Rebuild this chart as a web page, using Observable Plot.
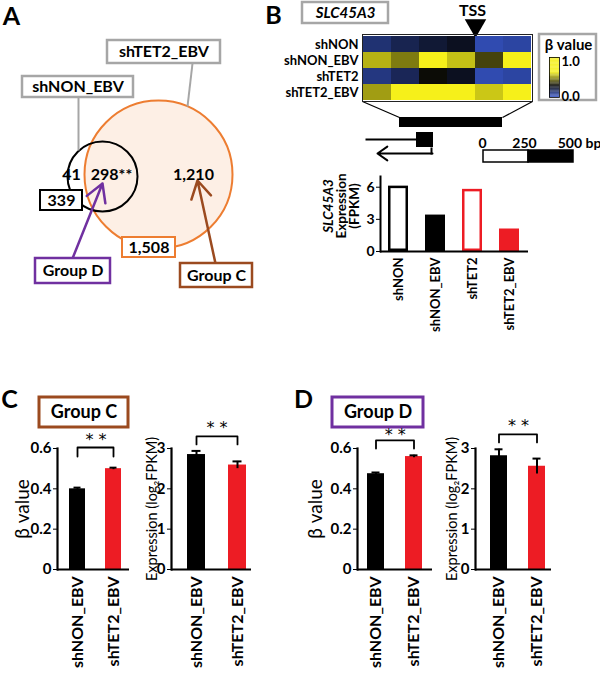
<!DOCTYPE html>
<html><head><meta charset="utf-8">
<script src="https://cdn.jsdelivr.net/npm/d3@7"></script>
<script src="https://cdn.jsdelivr.net/npm/@observablehq/plot@0.6"></script>
<style>
body{margin:0;background:#fff;}
#fig{position:relative;width:600px;height:673px;overflow:hidden;background:#fff;}
</style></head><body><div id="fig"></div>
<script>
// ---------------- DATA ----------------
// Panel A (Venn)
const vennSetLabels = ["shNON_EBV", "shTET2_EBV"];
const vennRegionCounts = ["41", "298**", "1,210"];
const vennSetTotals = ["339", "1,508"];
const vennGroups = ["Group D", "Group C"];
// Panel B heatmap (beta values, 6 CpG bins)
const heatRows = ["shNON", "shNON_EBV", "shTET2", "shTET2_EBV"];
const heatCols = [1, 2, 3, 4, 5, 6];
const beta_shNON      = [0.12, 0.17, 0.21, 0.24, 0.03, 0.05];
const beta_shNON_EBV  = [0.53, 0.45, 0.66, 0.55, 0.37, 0.75];
const beta_shTET2     = [0.10, 0.16, 0.29, 0.24, 0.03, 0.05];
const beta_shTET2_EBV = [0.50, 0.75, 0.75, 0.70, 0.56, 0.74];
const betaLegendTicks = ["1.0", "0.0"];
const geneName = "SLC45A3";
const scaleBarTicks = ["0", "250", "500 bp"];
// Panel B bar chart
const fpkmSamples = ["shNON", "shNON_EBV", "shTET2", "shTET2_EBV"];
const fpkmValues = [6.1, 3.4, 5.8, 2.1];
const fpkmTicks = [0, 3, 6];
// Panels C and D
const groupSamples = ["shNON_EBV", "shTET2_EBV"];
const groupC_beta = [0.40, 0.50];   const groupC_betaErr = [0.006, 0.005];
const groupC_expr = [2.85, 2.59];   const groupC_exprErr = [0.09, 0.09];
const groupD_beta = [0.475, 0.56];  const groupD_betaErr = [0.006, 0.006];
const groupD_expr = [2.82, 2.56];   const groupD_exprErr = [0.16, 0.19];
const betaTicks = [0, 0.2, 0.4, 0.6];
const exprTicks = [0, 1, 2, 3];

// ---------------- STYLE / LAYOUT ----------------
const FONT = "Lato, 'Open Sans', sans-serif";
const GRAY = "#a6a6a6", ORANGE = "#ed7d31", PURPLE = "#7030a0", BROWN = "#9b4a1f", RED = "#ed1c24";
const heatColor = {type: "linear", domain: [0, 0.28, 0.62, 1], range: ["#3553c4", "#050505", "#f6f01a", "#f6f01a"], interpolate: "rgb"};
const fig = document.getElementById("fig");
function place(svg, left, top) {
  svg.style.position = "absolute"; svg.style.left = left + "px"; svg.style.top = top + "px";
  svg.style.maxWidth = "none"; fig.appendChild(svg);
}
const st = (extra = {}) => Object.assign({fontFamily: FONT, color: "#000", background: "transparent", overflow: "visible"}, extra);

// ---------------- BASE LAYER (annotations, Venn, gene model) ----------------
const boxes = [
  {t: vennSetLabels[1], x1: 107, x2: 220, y1: 40, y2: 63, c: GRAY, fs: 16, sw: 2.5},
  {t: vennSetLabels[0], x1: 22, x2: 133, y1: 76, y2: 97, c: GRAY, fs: 16, sw: 2.5},
  {t: vennSetTotals[0], x1: 40, x2: 82, y1: 190, y2: 210, c: "#000", fs: 16, sw: 2},
  {t: vennSetTotals[1], x1: 122, x2: 175, y1: 237, y2: 257, c: ORANGE, fs: 16, sw: 2},
  {t: vennGroups[0], x1: 35, x2: 110, y1: 258, y2: 283, c: PURPLE, fs: 16, sw: 2.5},
  {t: vennGroups[1], x1: 180, x2: 252, y1: 263, y2: 287, c: BROWN, fs: 16, sw: 2.5},
  {t: geneName, x1: 302, x2: 388, y1: 2, y2: 23, c: GRAY, fs: 15, sw: 2.5, it: true},
  {t: vennGroups[1], x1: 39, x2: 128, y1: 397, y2: 427, c: BROWN, fs: 18, sw: 3},
  {t: vennGroups[0], x1: 332, x2: 423, y1: 397, y2: 427, c: PURPLE, fs: 18, sw: 3},
  {t: "", x1: 539, x2: 596, y1: 34, y2: 100, c: GRAY, fs: 14, sw: 2.5}
];
const panelLetters = [{t: "A", x: 11, y: 16}, {t: "B", x: 273, y: 15}, {t: "C", x: 9, y: 399}, {t: "D", x: 303, y: 399}];
const circles = [{x: 158, y: 174, r: 74}, {x: 102, y: 176, r: 35}];
const countPos = [{x: 71, y: 174}, {x: 111, y: 174}, {x: 193, y: 174}];
const leaders = [{x1: 78, y1: 97, x2: 78, y2: 150}, {x1: 192, y1: 63, x2: 187, y2: 106}];
const arrowsA = [{x1: 72, y1: 258, x2: 102, y2: 183, c: PURPLE}, {x1: 215, y1: 263, x2: 197, y2: 180, c: BROWN}];

const baseMarks = [];
baseMarks.push(Plot.text(panelLetters, {x: "x", y: "y", text: "t", fontSize: 25, fontWeight: "bold", lineAnchor: "middle"}));
baseMarks.push(Plot.dot([circles[0]], {x: "x", y: "y", r: circles[0].r, fill: "#fdefe5", stroke: ORANGE, strokeWidth: 2}));
baseMarks.push(Plot.dot([circles[1]], {x: "x", y: "y", r: circles[1].r, fill: "none", stroke: "#000", strokeWidth: 2}));
baseMarks.push(Plot.link(leaders, {x1: "x1", y1: "y1", x2: "x2", y2: "y2", stroke: GRAY, strokeWidth: 2}));
for (const a of arrowsA) baseMarks.push(Plot.arrow([a], {x1: "x1", y1: "y1", x2: "x2", y2: "y2", stroke: a.c, strokeWidth: 2.5, headLength: 12}));
for (const b of boxes) {
  baseMarks.push(Plot.rect([b], {x1: "x1", x2: "x2", y1: "y1", y2: "y2", fill: "white", stroke: b.c, strokeWidth: b.sw}));
  if (b.t) baseMarks.push(Plot.text([b], {x: d => (d.x1 + d.x2) / 2, y: d => (d.y1 + d.y2) / 2, text: "t", fontSize: b.fs, fontWeight: "bold", fontStyle: b.it ? "italic" : "normal"}));
}
baseMarks.push(Plot.text(countPos.map((p, i) => ({...p, t: vennRegionCounts[i]})), {x: "x", y: "y", text: "t", fontSize: 16, fontWeight: "bold"}));
// TSS marker
baseMarks.push(Plot.text([{x: 472, y: 10, t: "TSS"}], {x: "x", y: "y", text: "t", fontSize: 16, fontWeight: "bold"}));
baseMarks.push(Plot.dot([{x: 475, y: 25}], {x: "x", y: "y", symbol: "triangle", rotate: 180, r: 8, fill: "#000"}));
// legend title and ticks
baseMarks.push(Plot.text([{x: 568, y: 45, t: "β value"}], {x: "x", y: "y", text: "t", fontSize: 15, fontWeight: "bold"}));
baseMarks.push(Plot.text([{x: 561, y: 61, t: betaLegendTicks[0]}, {x: 561, y: 96, t: betaLegendTicks[1]}], {x: "x", y: "y", text: "t", fontSize: 13, fontWeight: "bold", textAnchor: "start"}));
// zoom-in trapezoid and region bar
baseMarks.push(Plot.link([{x1: 362, y1: 101, x2: 399, y2: 117}, {x1: 532, y1: 101, x2: 502, y2: 117}], {x1: "x1", y1: "y1", x2: "x2", y2: "y2", stroke: "#000", strokeWidth: 1.2}));
baseMarks.push(Plot.rect([{x1: 399, x2: 502, y1: 117, y2: 127}], {x1: "x1", x2: "x2", y1: "y1", y2: "y2", fill: "#000"}));
// gene model
baseMarks.push(Plot.link([{x1: 365, y1: 139, x2: 417, y2: 139}, {x1: 431, y1: 147, x2: 431, y2: 154}], {x1: "x1", y1: "y1", x2: "x2", y2: "y2", stroke: "#000", strokeWidth: 2}));
baseMarks.push(Plot.rect([{x1: 416, x2: 433, y1: 132, y2: 147}], {x1: "x1", x2: "x2", y1: "y1", y2: "y2", fill: "#000"}));
baseMarks.push(Plot.arrow([{x1: 432, y1: 153, x2: 377, y2: 153}], {x1: "x1", y1: "y1", x2: "x2", y2: "y2", stroke: "#000", strokeWidth: 2, headLength: 9, headAngle: 70}));
// scale bar
baseMarks.push(Plot.rect([{x1: 483, x2: 528, y1: 150, y2: 162}], {x1: "x1", x2: "x2", y1: "y1", y2: "y2", fill: "white", stroke: "#000", strokeWidth: 1.5}));
baseMarks.push(Plot.rect([{x1: 528, x2: 573, y1: 150, y2: 162}], {x1: "x1", x2: "x2", y1: "y1", y2: "y2", fill: "#000", stroke: "#000", strokeWidth: 1.5}));
baseMarks.push(Plot.text([{x: 482, t: scaleBarTicks[0]}, {x: 524, t: scaleBarTicks[1]}, {x: 579, t: scaleBarTicks[2]}], {x: "x", y: () => 143, text: "t", fontSize: 14, fontWeight: "bold"}));

const base = Plot.plot({
  width: 600, height: 673, margin: 0,
  x: {domain: [0, 600], range: [0, 600], axis: null},
  y: {domain: [0, 673], range: [0, 673], axis: null},
  style: st({background: "white"}),
  marks: baseMarks
});
place(base, 0, 0);

// ---------------- HEATMAP ----------------
const betaByRow = [beta_shNON, beta_shNON_EBV, beta_shTET2, beta_shTET2_EBV];
const heatData = heatRows.flatMap((r, i) => heatCols.map((c, j) => ({row: r, col: c, beta: betaByRow[i][j]})));
const heat = Plot.plot({
  width: 244, height: 67, marginLeft: 72, marginRight: 2, marginTop: 0, marginBottom: 0,
  style: st({fontSize: "13px", fontWeight: "bold"}),
  x: {domain: heatCols, axis: null, padding: 0},
  y: {domain: heatRows, padding: 0, label: null},
  color: heatColor,
  marks: [
    Plot.cell(heatData, {x: "col", y: "row", fill: "beta"}),
    Plot.frame({stroke: "#222", strokeWidth: 1}),
    Plot.axisY({tickSize: 0, tickPadding: 4, label: null})
  ]
});
place(heat, 290, 34);

// colour bar
const ramp = d3.range(0, 1, 0.02).map(v => ({v}));
const bar = Plot.plot({
  width: 10, height: 40, margin: 0,
  x: {domain: [0, 1], axis: null}, y: {domain: [0, 1], axis: null},
  color: heatColor, style: st(),
  marks: [
    Plot.rect(ramp, {x1: 0, x2: 1, y1: "v", y2: d => d.v + 0.021, fill: "v"}),
    Plot.frame({stroke: "#000", strokeWidth: 0.8})
  ]
});
place(bar, 549, 57);

// ---------------- PANEL B BAR CHART ----------------
const fpkmData = fpkmSamples.map((s, i) => ({s, v: fpkmValues[i], fill: ["white", "#000", "white", RED][i], stroke: ["#000", "#000", RED, RED][i]}));
const fpkm = Plot.plot({
  width: 232, height: 165, marginLeft: 80, marginRight: 4, marginTop: 5, marginBottom: 85,
  style: st({fontSize: "13px", fontWeight: "bold"}),
  x: {domain: fpkmSamples, paddingInner: 0.45, paddingOuter: 0.22, label: null},
  y: {domain: [0, 7], label: null},
  color: {type: "identity"},
  marks: [
    Plot.barY(fpkmData, {x: "s", y: "v", fill: "fill", stroke: "stroke", strokeWidth: 2.5, inset: 1.25}),
    Plot.axisX({tickRotate: -90, tickSize: 0, tickPadding: 6, label: null}),
    Plot.axisY({ticks: fpkmTicks, tickFormat: d => String(d), tickSize: 4, tickPadding: 2, fontSize: 14, label: null}),
    Plot.ruleY([0], {strokeWidth: 2}),
    Plot.frame({anchor: "left", strokeWidth: 2}),
    Plot.text([geneName], {frameAnchor: "left", textAnchor: "middle", dx: -52, dy: -8, rotate: -90, fontStyle: "italic", fontSize: 13.5}),
    Plot.text(["Expression"], {frameAnchor: "left", textAnchor: "middle", dx: -39, dy: -8, rotate: -90, fontSize: 13.5}),
    Plot.text(["(FPKM)"], {frameAnchor: "left", textAnchor: "middle", dx: -26, dy: -8, rotate: -90, fontSize: 13.5})
  ]
});
place(fpkm, 300, 171);

// ---------------- PANELS C & D ----------------
function groupChart({vals, errs, domain, ticks, tickFmt, ylabel, labelDx, labelSize, bracket, align, rangeW}) {
  const data = groupSamples.map((s, i) => ({s, v: vals[i], e: errs[i], fill: i === 0 ? "#000" : RED}));
  const [yb, yt, ys] = bracket;
  const br = [{s: groupSamples[0], y: yb}, {s: groupSamples[0], y: yt}, {s: groupSamples[1], y: yt}, {s: groupSamples[1], y: yb}];
  const ml = 57;
  const xOpts = {type: "band", domain: groupSamples, range: [ml, ml + rangeW], paddingInner: 0.55, paddingOuter: 0.25, align};
  const step = Plot.scale({x: xOpts}).step;
  return Plot.plot({
    width: ml + rangeW + 2, height: 251, marginLeft: ml, marginRight: 2, marginTop: 28, marginBottom: 102,
    style: st({fontSize: "15px", fontWeight: "bold"}),
    x: {...xOpts, label: null},
    y: {domain, label: null},
    color: {type: "identity"},
    marks: [
      Plot.barY(data, {x: "s", y: "v", fill: "fill"}),
      Plot.ruleX(data, {x: "s", y1: d => d.v - d.e, y2: d => d.v + d.e, stroke: "#000", strokeWidth: 2}),
      Plot.tickY(data, {x: "s", y: d => d.v + d.e, stroke: "#000", strokeWidth: 2, insetLeft: 4.5, insetRight: 4.5}),
      Plot.line(br, {x: "s", y: "y", stroke: "#000", strokeWidth: 1.8}),
      Plot.text(["* *"], {x: () => groupSamples[0], y: () => ys, dx: step / 2, fontSize: 16, fontWeight: "normal", fontFamily: "'DejaVu Sans', sans-serif"}),
      Plot.axisX({tickRotate: -90, tickSize: 0, tickPadding: 7, fontSize: 16, label: null}),
      Plot.axisY({ticks, tickFormat: tickFmt, tickSize: 4, tickPadding: 2, label: null}),
      Plot.ruleY([0], {strokeWidth: 2.2}),
      Plot.frame({anchor: "left", strokeWidth: 2.2}),
      Plot.text([ylabel], {frameAnchor: "left", textAnchor: "middle", dx: labelDx, rotate: -90, fontSize: labelSize, fontWeight: "normal"})
    ]
  });
}
const fmtBeta = d => d === 0 ? "0" : d.toFixed(1);
const charts = [
  {vals: groupC_beta, errs: groupC_betaErr, domain: [0, 0.6], ticks: betaTicks, tickFmt: fmtBeta, ylabel: "β value", labelDx: -35, labelSize: 19, bracket: [0.56, 0.605, 0.645], align: 0.6, rangeW: 72, left: 0},
  {vals: groupC_expr, errs: groupC_exprErr, domain: [0, 3], ticks: exprTicks, tickFmt: d => String(d), ylabel: "Expression (log₂FPKM)", labelDx: -19, labelSize: 14.5, bracket: [3.1, 3.3, 3.5], align: 0.8, rangeW: 80, left: 114},
  {vals: groupD_beta, errs: groupD_betaErr, domain: [0, 0.6], ticks: betaTicks, tickFmt: fmtBeta, ylabel: "β value", labelDx: -42, labelSize: 19, bracket: [0.6, 0.64, 0.67], align: 0.5, rangeW: 75, left: 300},
  {vals: groupD_expr, errs: groupD_exprErr, domain: [0, 3], ticks: exprTicks, tickFmt: d => String(d), ylabel: "Expression (log₂FPKM)", labelDx: -23, labelSize: 14.5, bracket: [3.15, 3.35, 3.55], align: 0.7, rangeW: 76, left: 418}
];
for (const c of charts) place(groupChart(c), c.left, 420);
</script>
</body></html>
